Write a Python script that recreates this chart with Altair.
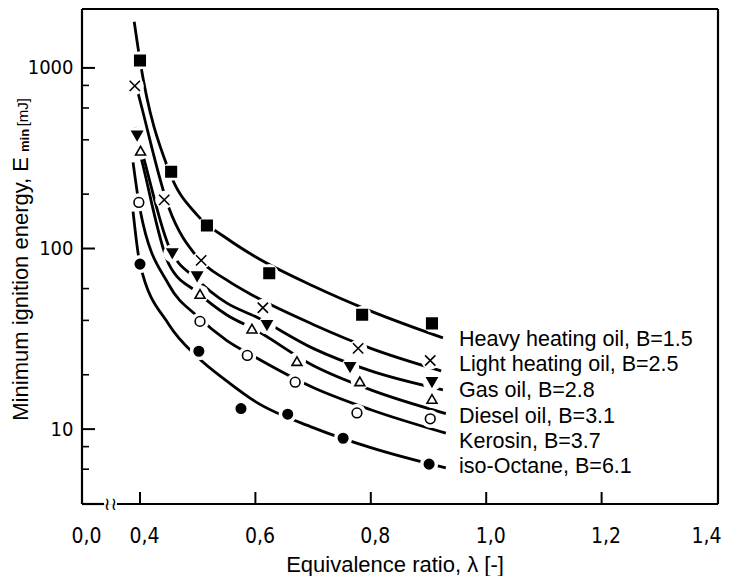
import altair as alt
import pandas as pd

W, H = 636, 495

series_names = [
    "Heavy heating oil, B=1.5",
    "Light heating oil, B=2.5",
    "Gas oil, B=2.8",
    "Diesel oil, B=3.1",
    "Kerosin, B=3.7",
    "iso-Octane, B=6.1",
]

# measured points (equivalence ratio, minimum ignition energy in mJ)
heavy_lam = [0.400, 0.454, 0.516, 0.624, 0.785, 0.906]
heavy_E = [1100, 266, 134, 73, 43, 38.5]
light_lam = [0.391, 0.442, 0.506, 0.613, 0.778, 0.903]
light_E = [795, 186, 86, 47, 28, 24]
gas_lam = [0.395, 0.456, 0.499, 0.620, 0.764, 0.906]
gas_E = [421, 94, 70, 37.6, 22, 18.2]
diesel_lam = [0.401, 0.504, 0.594, 0.672, 0.781, 0.906]
diesel_E = [348, 56, 36, 23.8, 18.4, 14.7]
kerosin_lam = [0.398, 0.504, 0.586, 0.669, 0.776, 0.903]
kerosin_E = [180, 39.5, 25.6, 18.2, 12.3, 11.4]
octane_lam = [0.400, 0.502, 0.575, 0.656, 0.752, 0.901]
octane_E = [82, 27, 13, 12.1, 8.9, 6.4]

# fitted curves
heavy_fit_lam = [0.390, 0.400, 0.450, 0.500, 0.550, 0.600, 0.700, 0.800, 0.925]
heavy_fit_E = [1800, 1100, 270, 152, 114, 90, 62, 45, 32]
light_fit_lam = [0.391, 0.400, 0.450, 0.500, 0.550, 0.600, 0.700, 0.800, 0.922]
light_fit_E = [850, 660, 168, 89, 67, 54, 38, 28, 21]
gas_fit_lam = [0.392, 0.405, 0.450, 0.500, 0.550, 0.600, 0.700, 0.800, 0.925]
gas_fit_E = [470, 330, 103, 67, 50, 42, 28, 21, 16.5]
diesel_fit_lam = [0.397, 0.405, 0.450, 0.500, 0.550, 0.600, 0.700, 0.800, 0.930]
diesel_fit_E = [370, 290, 82, 57, 43, 35.5, 22.5, 16.5, 12.2]
kerosin_fit_lam = [0.388, 0.400, 0.450, 0.500, 0.550, 0.600, 0.700, 0.800, 0.930]
kerosin_fit_E = [300, 165, 63, 42, 31, 25, 17, 12.8, 9.5]
octane_fit_lam = [0.388, 0.400, 0.450, 0.500, 0.550, 0.600, 0.700, 0.800, 0.930]
octane_fit_E = [160, 82, 38, 25, 18.5, 14.2, 10.2, 7.9, 6.1]

# curve labels
label_lam = [0.953, 0.953, 0.953, 0.953, 0.953, 0.953]
label_E = [28.7, 20.9, 15.1, 10.8, 7.85, 5.69]

# axis ticks
x_label_values = [0.2995, 0.4, 0.6, 0.8, 1.0, 1.2, 1.4]
x_tick_values = [0.4, 0.6, 0.8, 1.0, 1.2]
y_major = [10, 100, 1000]
y_minor = [6, 8, 20, 40, 60, 200, 400, 600, 800]

marker_lams = [heavy_lam, light_lam, gas_lam, diesel_lam, kerosin_lam, octane_lam]
marker_Es = [heavy_E, light_E, gas_E, diesel_E, kerosin_E, octane_E]
fit_lams = [heavy_fit_lam, light_fit_lam, gas_fit_lam, diesel_fit_lam, kerosin_fit_lam, octane_fit_lam]
fit_Es = [heavy_fit_E, light_fit_E, gas_fit_E, diesel_fit_E, kerosin_fit_E, octane_fit_E]

pts = pd.DataFrame(
    [{"series": s, "lam": l, "E": e}
     for s, ls, es in zip(series_names, marker_lams, marker_Es)
     for l, e in zip(ls, es)]
)
fits = pd.DataFrame(
    [{"series": s, "lam": l, "E": e}
     for s, ls, es in zip(series_names, fit_lams, fit_Es)
     for l, e in zip(ls, es)]
)
labels = pd.DataFrame({"series": series_names, "lam": label_lam, "E": label_E})

TICK_FONT = "Liberation Sans Narrow, DejaVu Sans Condensed, sans-serif"
TEXT_FONT = "Liberation Sans, Arial, sans-serif"

sx = alt.Scale(domain=[0.2995, 1.4017], nice=False, zero=False)
sy = alt.Scale(type="log", domain=[3.85, 2119], nice=False)

x_axis = alt.Axis(
    values=x_label_values,
    labelExpr="datum.value < 0.35 ? '0,0' : replace(format(datum.value, '.1f'), '.', ',')",
    title=None, domain=False, ticks=False, grid=False,
    labelFont=TICK_FONT, labelFontSize=21, labelColor="black",
    labelPadding=21, labelOffset=4, labelOverlap=False,
    labelAlign={"condition": {"test": "datum.value > 1.35", "value": "right"}, "value": "center"},
)
y_axis = alt.Axis(
    values=y_major, format="d",
    title=None, domain=False, ticks=False, grid=False,
    labelFont=TICK_FONT, labelFontSize=20, labelColor="black",
    labelPadding=9, labelOverlap=False,
)

X = alt.X("lam:Q", scale=sx, axis=x_axis)
Y = alt.Y("E:Q", scale=sy, axis=y_axis)

lines = alt.Chart(fits).mark_line(
    color="black", strokeWidth=2.8, interpolate="monotone"
).encode(x=X, y=Y, detail="series:N")

halo = alt.Chart(pts).mark_point(
    shape="circle", filled=True, color="white", size=330, opacity=1
).encode(x=X, y=Y)

markers = alt.Chart(pts).mark_point(
    filled=True, stroke="black", strokeWidth=1.6, opacity=1, fillOpacity=1, strokeOpacity=1
).encode(
    x=X, y=Y,
    shape=alt.Shape("series:N", legend=None, scale=alt.Scale(
        domain=series_names,
        range=["square", "M-1,-1L1,1M-1,1L1,-1", "triangle-down", "triangle-up", "circle", "circle"])),
    fill=alt.Fill("series:N", legend=None, scale=alt.Scale(
        domain=series_names,
        range=["black", "black", "black", "white", "white", "black"])),
    size=alt.Size("series:N", legend=None, scale=alt.Scale(
        domain=series_names, range=[110, 90, 130, 110, 80, 110])),
)

curve_labels = alt.Chart(labels).mark_text(
    align="left", baseline="alphabetic", font=TEXT_FONT, fontSize=21.5, color="black"
).encode(x=X, y=Y, text="series:N")

x_ticks = alt.Chart(pd.DataFrame({"lam": x_tick_values})).mark_rule(color="black", strokeWidth=2).encode(
    x=X, y=alt.value(H), y2=alt.value(H - 12),
)
y_major_ticks = alt.Chart(pd.DataFrame({"E": y_major})).mark_rule(color="black", strokeWidth=2).encode(
    y=Y, x=alt.value(0), x2=alt.value(13),
)
y_minor_ticks = alt.Chart(pd.DataFrame({"E": y_minor})).mark_rule(color="black", strokeWidth=1.6).encode(
    y=Y, x=alt.value(0), x2=alt.value(7),
)

one = pd.DataFrame({"a": [0]})
frame_style = dict(color="black", strokeWidth=2.2)
frame = [
    alt.Chart(one).mark_rule(**frame_style).encode(x=alt.value(0), x2=alt.value(W), y=alt.value(0)),
    alt.Chart(one).mark_rule(**frame_style).encode(x=alt.value(W), y=alt.value(0), y2=alt.value(H)),
    alt.Chart(one).mark_rule(**frame_style).encode(x=alt.value(0), y=alt.value(0), y2=alt.value(H)),
    alt.Chart(one).mark_rule(**frame_style).encode(x=alt.value(0), x2=alt.value(22), y=alt.value(H)),
    alt.Chart(one).mark_rule(**frame_style).encode(x=alt.value(35), x2=alt.value(W), y=alt.value(H)),
]
brk = alt.Chart(one).mark_text(
    text="\u2240\u2240", font="DejaVu Sans", fontSize=18, color="black", baseline="middle", align="center"
).encode(x=alt.value(28.5), y=alt.value(H + 1))

x_title = alt.Chart(one).mark_text(
    text="Equivalence ratio, \u03bb [-]", font=TEXT_FONT, fontSize=22, color="black",
    align="center", baseline="alphabetic",
).encode(x=alt.value(313), y=alt.value(563))

yt1 = alt.Chart(one).mark_text(
    text="Minimum ignition energy, E", font=TEXT_FONT, fontSize=22, color="black",
    align="right", baseline="alphabetic", angle=270,
).encode(x=alt.value(-54), y=alt.value(148))
yt2 = alt.Chart(one).mark_text(
    text="min", font=TEXT_FONT, fontSize=13, fontWeight="bold", color="black",
    align="left", baseline="alphabetic", angle=270,
).encode(x=alt.value(-53), y=alt.value(143))
yt3 = alt.Chart(one).mark_text(
    text="[mJ]", font=TEXT_FONT, fontSize=15, color="black",
    align="right", baseline="alphabetic", angle=270,
).encode(x=alt.value(-54), y=alt.value(89))

chart = alt.layer(
    lines, halo, markers, curve_labels, x_ticks, y_major_ticks, y_minor_ticks,
    *frame, brk, x_title, yt1, yt2, yt3,
).properties(
    width=W, height=H,
    autosize=alt.AutoSizeParams(type="none"),
    padding={"left": 74, "top": 1, "right": 5, "bottom": 72},
).configure_view(stroke=None).configure(background="white")

chart.save("out.html", embed_options={"renderer": "svg", "actions": False})
